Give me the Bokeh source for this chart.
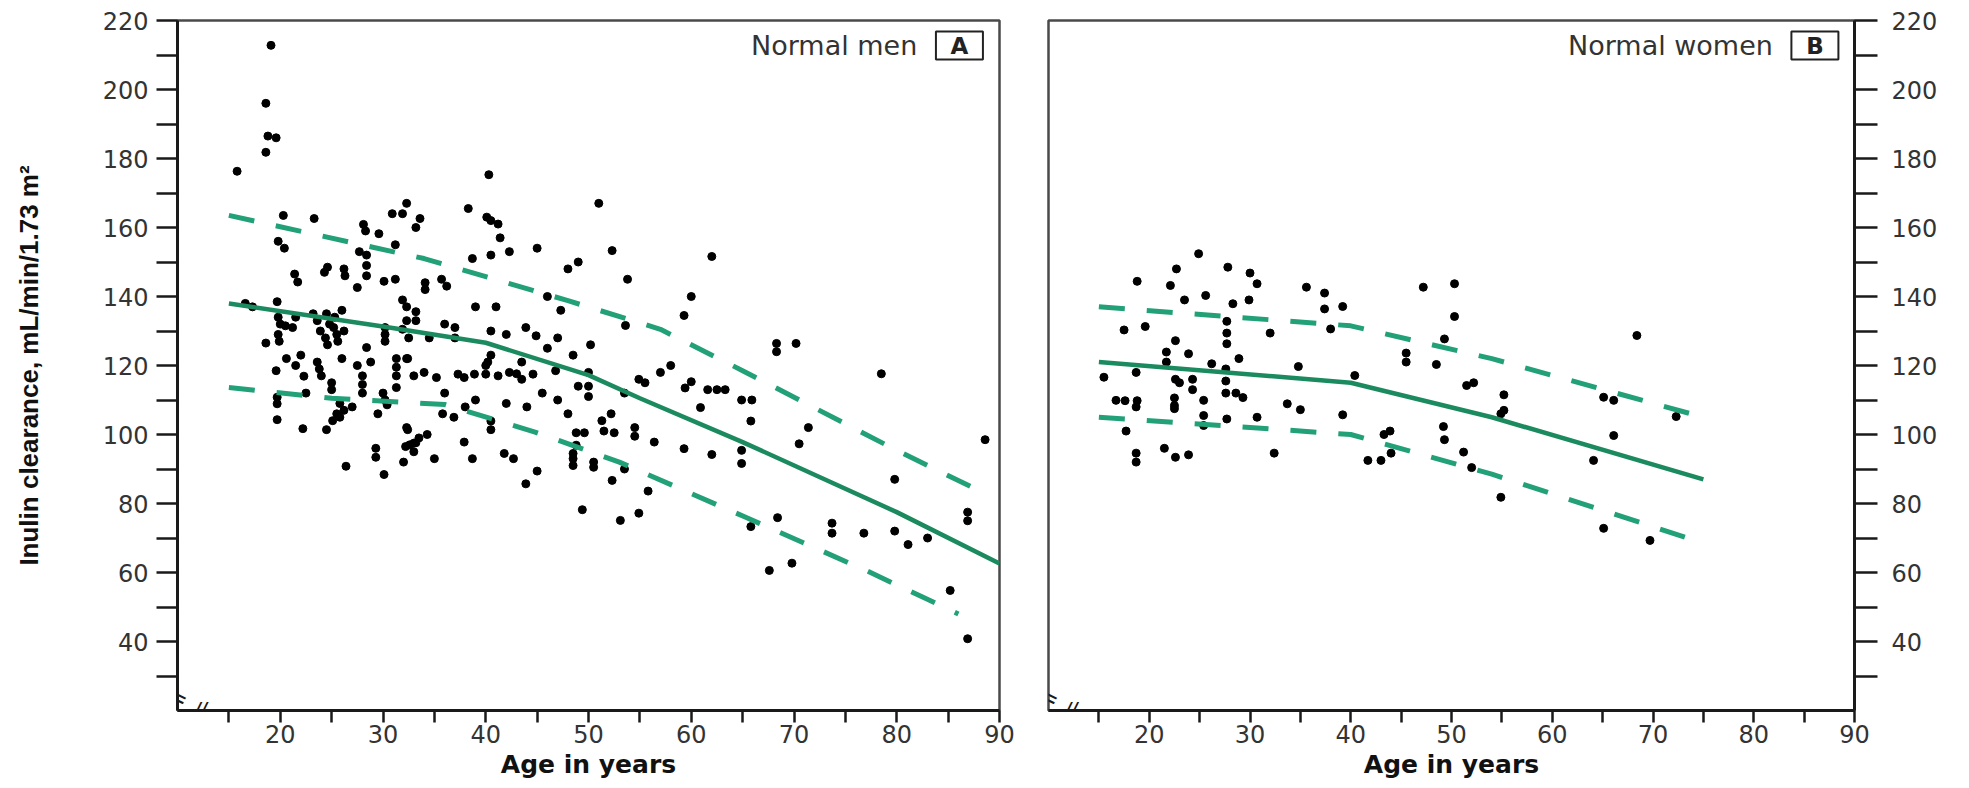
from bokeh.plotting import figure
from bokeh.layouts import row
from bokeh.models import FixedTicker, Label
from bokeh.embed import file_html
from bokeh.resources import INLINE

# ---------------- data ----------------
men_age = [15.8, 19.1, 18.6, 18.8, 19.6, 18.6, 20.3, 19.8, 20.4, 16.6, 17.3, 19.7, 19.8, 20.5, 18.6,
           19.6, 20.0, 19.8, 19.9, 19.7, 19.7, 19.7, 20.6,
           21.4, 21.7, 21.5, 21.2, 21.5, 22.0, 22.3, 22.5, 22.2, 23.3, 23.2, 23.6, 23.9, 23.6, 23.8,
           24.0, 24.3, 24.6, 24.5, 24.8, 24.4, 24.6, 24.5, 25.0, 25.0, 25.3, 25.2, 25.5, 25.6, 25.1,
           25.5, 26.2, 25.8, 26.2, 26.3, 26.0, 26.2, 26.4, 25.8, 26.0,
           27.7, 28.4, 28.4, 28.4, 28.1, 28.3, 27.5, 29.6, 30.1, 30.9, 31.9, 33.2, 31.2, 31.2, 31.9,
           28.4, 30.2, 30.2, 30.2, 31.3, 31.3, 31.3, 31.3, 32.4, 33.0, 28.0, 28.0, 28.0, 30.0, 30.2,
           30.4, 33.2, 33.2, 31.9, 29.3, 29.3, 30.1, 32.0, 32.2, 32.6, 33.0, 32.4, 33.2, 27.5, 28.8,
           29.5, 27.0,
           32.3, 33.6, 38.3, 40.1, 41.2, 40.5, 41.4, 45.0, 38.7, 40.5, 42.3, 34.1, 34.1, 35.7, 36.2,
           39.0, 41.0, 32.3, 32.3, 36.0, 37.0, 40.5, 42.0, 43.9, 44.9, 46.0, 47.3, 32.5, 34.5, 37.0,
           34.0, 35.2, 37.3, 37.9, 38.9, 40.0, 41.2, 42.3, 43.0, 44.6, 32.3, 40.5, 40.2, 40.0, 43.5,
           43.5, 46.8, 40.3,
           35.8, 36.9, 32.3, 33.5, 33.0, 35.0, 34.3, 37.9, 38.7, 41.8, 42.7, 40.5, 40.5, 43.9, 45.0,
           38.0, 39.0, 36.0, 42.0, 44.0, 45.5,
           48.5, 48.5, 48.5, 50.5, 50.5, 53.5, 49.4, 53.1, 54.9, 55.8, 52.3, 56.4, 54.5, 54.5, 51.3,
           51.5, 52.2, 52.5, 48.8, 49.6, 48.8, 48.5, 50.0, 50.2, 49.0, 50.0, 50.0, 53.5, 54.9, 55.5,
           51.0, 52.3, 53.8, 53.6, 48.0, 49.0, 47.0, 46.0, 48.0, 47.0,
           59.3, 60.0, 62.0, 60.0, 59.4, 61.6, 62.5, 63.3, 64.9, 65.9, 60.9, 65.8, 59.3, 62.0, 64.9,
           64.9, 71.4, 70.5, 68.3, 68.3, 70.2, 78.5, 88.6, 79.8, 68.4, 65.8, 73.7, 73.7, 76.8, 79.8,
           81.1, 83.0, 67.6, 69.8, 85.2, 86.9, 86.9, 86.9, 58.0, 57.0]
men_gfr = [176.3, 212.8, 196.0, 186.5, 186.0, 181.8, 163.5, 156.0, 154.0, 138.0, 137.0, 138.5, 134.0,
           131.5, 126.5, 118.5, 132.0, 129.0, 127.0, 108.9, 110.8, 104.3, 122.0,
           146.5, 144.2, 134.0, 131.0, 120.0, 123.0, 116.9, 112.0, 101.7, 162.6, 135.0, 133.0, 130.0,
           121.0, 119.0, 117.0, 147.0, 148.5, 135.0, 132.0, 128.0, 126.0, 101.4, 115.0, 113.0, 134.0,
           131.0, 129.0, 127.0, 104.0, 106.0, 107.0, 105.0, 148.0, 146.0, 136.0, 130.0, 90.8, 109.0,
           122.0,
           153.0, 152.0, 149.0, 146.0, 160.9, 159.0, 142.6, 158.2, 144.4, 164.0, 164.0, 160.0, 155.0,
           145.0, 139.0, 125.2, 131.0, 129.0, 127.0, 122.0, 119.5, 117.0, 113.6, 122.0, 117.0, 117.0,
           114.5, 112.0, 112.0, 110.0, 108.6, 135.6, 133.0, 130.5, 96.0, 93.4, 88.4, 92.0, 96.5, 97.0,
           97.5, 101.4, 97.6, 120.0, 121.0, 106.0, 108.0,
           167.0, 162.6, 165.5, 163.0, 161.0, 162.0, 157.0, 154.0, 151.0, 152.0, 153.0, 144.0, 142.0,
           145.0, 143.0, 137.0, 137.0, 137.0, 133.0, 132.0, 131.0, 130.0, 129.0, 131.0, 128.6, 140.0,
           136.0, 128.0, 128.0, 128.0, 118.0, 116.5, 117.5, 116.5, 117.5, 117.5, 117.0, 118.0, 117.6,
           117.5, 122.0, 123.0, 121.0, 120.0, 121.0, 116.0, 118.5, 175.3,
           106.0, 105.0, 102.0, 99.0, 95.0, 93.0, 100.0, 97.8, 93.0, 94.5, 93.0, 101.4, 103.9, 85.7,
           89.4, 108.0, 110.0, 112.0, 109.0, 108.0, 112.0,
           91.0, 93.0, 94.5, 92.0, 90.5, 90.0, 78.2, 75.1, 77.2, 83.6, 86.7, 97.8, 102.0, 99.5, 104.0,
           101.0, 106.0, 100.5, 100.5, 100.5, 96.9, 123.0, 118.0, 126.0, 114.0, 114.0, 111.0, 112.0,
           116.0, 115.0, 167.0, 153.3, 145.0, 131.6, 148.0, 150.0, 128.0, 125.0, 106.0, 110.0,
           134.5, 140.0, 151.6, 115.3, 113.5, 113.0, 113.0, 113.0, 110.0, 110.0, 107.8, 103.9, 95.9,
           94.2, 95.4, 91.6, 102.0, 97.3, 124.0, 126.4, 126.4, 117.6, 98.5, 87.0, 75.9, 73.3, 74.3,
           71.4, 71.4, 72.0, 68.1, 70.0, 60.6, 62.7, 54.8, 77.5, 75.0, 40.8, 120.0, 118.0]

women_age = [24.9, 22.7, 27.8, 30.0, 30.7, 18.8, 22.1, 23.5, 25.6, 28.3, 29.9, 27.7, 27.7, 27.7, 17.5,
             19.6, 22.6, 21.7, 21.7, 23.9, 28.9, 32.0, 35.6, 37.4, 39.2, 37.4, 38.0, 34.8, 40.4, 47.2,
             50.3, 50.3, 49.3, 45.5, 45.5, 48.5, 51.5, 52.2, 15.5, 18.7, 23.0, 22.6, 24.3, 24.3, 26.2,
             27.6, 27.6, 27.6, 28.6, 29.3, 17.6, 18.8, 22.5,
             16.7, 18.7, 17.7, 18.7, 18.7, 21.5, 22.6, 23.9, 22.5, 22.5, 25.4, 25.4, 25.4, 27.7, 30.7,
             32.4, 33.7, 35.0, 39.2, 41.7, 43.0, 44.0, 43.3, 43.9, 49.2, 49.3, 51.2, 52.0, 54.9, 54.9,
             55.2, 55.2, 66.1, 66.1, 64.1, 72.3, 65.1, 69.7, 68.4, 65.1]
women_gfr = [152.4, 148.0, 148.5, 146.8, 143.7, 144.4, 143.2, 139.0, 140.3, 137.9, 139.0, 132.8, 129.4,
             126.3, 130.3, 131.3, 127.2, 123.9, 121.0, 123.4, 122.0, 129.4, 142.7, 141.0, 137.1, 136.4,
             130.6, 119.7, 117.1, 142.7, 143.7, 134.2, 127.7, 123.6, 121.0, 120.3, 114.2, 115.0, 116.6,
             118.0, 115.0, 116.0, 113.0, 116.0, 120.5, 119.0, 115.5, 112.0, 112.0, 110.7, 109.8, 109.8,
             110.6,
             109.9, 108.0, 101.0, 94.6, 92.0, 96.0, 93.4, 94.1, 108.4, 107.5, 109.9, 105.5, 102.6, 104.5,
             105.0, 94.6, 108.9, 107.2, 105.7, 92.5, 92.5, 94.6, 100.0, 101.0, 102.3, 98.5, 94.9, 90.4,
             81.8, 106.0, 107.0, 111.5, 109.9, 99.7, 92.5, 105.2, 72.8, 69.3, 128.7, 110.8]

men_mean_age = [15, 30, 40, 50, 55, 65, 80, 90]
men_mean = [138.0, 131.3, 126.6, 117.2, 110.5, 97.8, 77.5, 62.6]
men_upper_age = [15, 34, 48, 57, 65, 80, 88.5]
men_upper = [163.5, 151.0, 138.8, 130.5, 118.5, 95.4, 83.0]
men_lower_age = [15, 25, 36, 44.8, 53, 65.3, 77, 86]
men_lower = [113.6, 110.5, 108.7, 100.7, 92.0, 76.0, 60.6, 48.0]

women_mean_age = [15, 40, 54, 75]
women_mean = [121.0, 115.0, 105.0, 87.0]
women_upper_age = [15, 40, 54, 75]
women_upper = [137.0, 131.5, 122.0, 105.0]
women_lower_age = [15, 40, 54, 75]
women_lower = [105.0, 100.0, 88.5, 68.5]

x_major = [20, 30, 40, 50, 60, 70, 80, 90]
x_minor = [15, 25, 35, 45, 55, 65, 75, 85]
y_major = [40, 60, 80, 100, 120, 140, 160, 180, 200, 220]
y_minor = [30, 50, 70, 90, 110, 130, 150, 170, 190, 210]

panel_titles = ["Normal men", "Normal women"]
panel_letters = ["A", "B"]
x_title = "Age in years"
y_title = "Inulin clearance, mL/min/1.73 m\u00b2"

# ---------------- style ----------------
GREEN = "#1b8a5f"
GREEN_D = "#22a077"
TICK_FONT = "DejaVu Sans"
TICK_COLOR = "#333333"


def style_axis(ax, tick_len):
    ax.axis_line_color = "#1a1a1a"
    ax.axis_line_width = 3
    ax.major_tick_line_color = "#1a1a1a"
    ax.minor_tick_line_color = "#1a1a1a"
    ax.major_tick_line_width = 2.5
    ax.minor_tick_line_width = 2.5
    ax.major_tick_out = tick_len
    ax.major_tick_in = 0
    ax.minor_tick_out = tick_len
    ax.minor_tick_in = 0
    ax.major_label_text_font = TICK_FONT
    ax.major_label_text_font_size = "24px"
    ax.major_label_text_color = TICK_COLOR


def make_panel(width, left, right, yloc, ages, gfr, m_age, m_val, u_age, u_val, l_age, l_val,
               title, letter, title_x, box_x):
    p = figure(width=width, height=788, x_range=(10, 90), y_range=(20, 220),
               output_backend="svg", toolbar_location=None, y_axis_location=yloc,
               min_border_left=left, min_border_right=right, min_border_top=20,
               min_border_bottom=78)
    p.grid.visible = False
    p.outline_line_color = "#4a4a4a"
    p.outline_line_width = 2.5
    p.background_fill_color = "white"
    p.border_fill_color = "white"

    p.xaxis.ticker = FixedTicker(ticks=x_major, minor_ticks=x_minor)
    p.yaxis.ticker = FixedTicker(ticks=y_major, minor_ticks=y_minor)
    style_axis(p.xaxis[0], 12)
    style_axis(p.yaxis[0], 21)
    p.xaxis.major_label_standoff = 2
    p.xaxis.axis_label = x_title
    p.xaxis.axis_label_text_font = "DejaVu Sans"
    p.xaxis.axis_label_text_font_style = "bold"
    p.xaxis.axis_label_text_font_size = "25px"
    p.xaxis.axis_label_text_color = "#111111"
    p.xaxis.axis_label_standoff = 4

    p.scatter(ages, gfr, size=8, color="black", marker="circle")
    p.line(m_age, m_val, color=GREEN, line_width=4.5)
    p.line(u_age, u_val, color=GREEN_D, line_width=5, line_dash="26 22")
    p.line(l_age, l_val, color=GREEN_D, line_width=5, line_dash="26 22")

    p.add_layout(Label(x=title_x, y=212.75, text=title, text_align="right",
                       text_baseline="middle", text_font="DejaVu Sans",
                       text_font_size="27px", text_color="#333333"))
    p.rect(x=[box_x], y=[212.75], width=47, height=28, width_units="screen",
           height_units="screen", fill_color="white", line_color="#222222", line_width=2)
    p.add_layout(Label(x=box_x, y=212.75, text=letter, text_align="center",
                       text_baseline="middle", text_font="DejaVu Sans", text_font_style="bold",
                       text_font_size="23px", text_color="#222222"))
    # axis break marks
    p.add_layout(Label(x=10, y=24, text="=", text_align="center", text_baseline="middle",
                       angle=-0.45, text_font="DejaVu Sans", text_font_size="26px",
                       text_color="#1a1a1a"))
    p.add_layout(Label(x=12.3, y=20, y_offset=2, text="//", text_align="center",
                       text_baseline="middle", text_font="DejaVu Sans", text_font_style="bold italic",
                       text_font_size="17px", text_color="#1a1a1a"))
    return p


p1 = make_panel(1018, 177, 19, "left", men_age, men_gfr, men_mean_age, men_mean,
                men_upper_age, men_upper, men_lower_age, men_lower,
                panel_titles[0], panel_letters[0], 82.0, 86.1)
p1.yaxis.major_label_standoff = 8
p1.yaxis.axis_label = y_title
p1.yaxis.axis_label_text_font = "Liberation Sans"
p1.yaxis.axis_label_text_font_style = "bold"
p1.yaxis.axis_label_text_font_size = "26px"
p1.yaxis.axis_label_text_color = "#111111"
p1.yaxis.axis_label_standoff = 56

p2 = make_panel(948, 30, 112, "right", women_age, women_gfr, women_mean_age, women_mean,
                women_upper_age, women_upper, women_lower_age, women_lower,
                panel_titles[1], panel_letters[1], 81.9, 86.07)
p2.yaxis.major_tick_out = 23
p2.yaxis.minor_tick_out = 23
p2.yaxis.major_label_standoff = 14

layout = row(p1, p2)
open("out.html", "w").write(file_html(layout, INLINE))
